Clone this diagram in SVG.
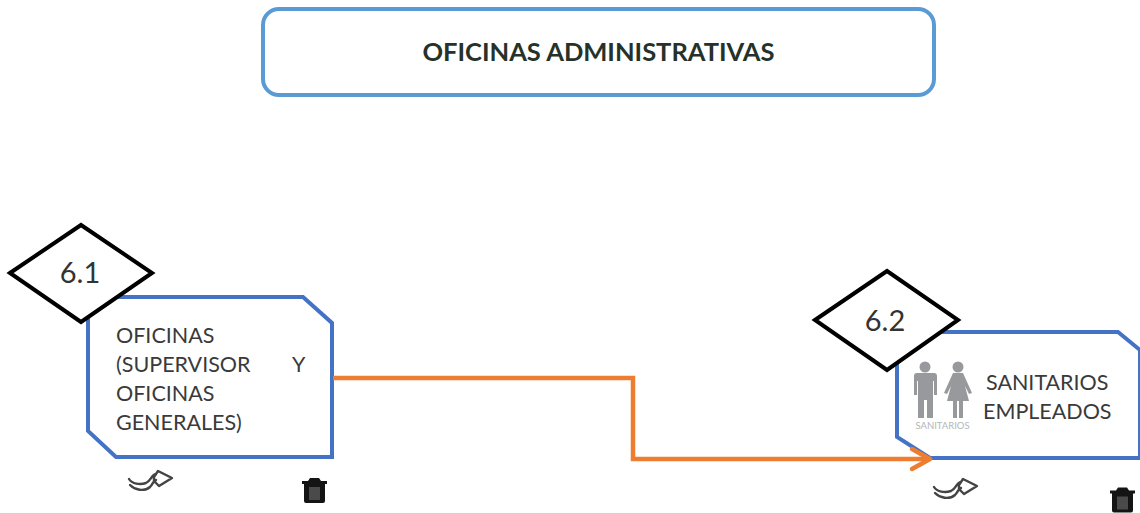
<svg xmlns="http://www.w3.org/2000/svg" width="1140" height="513" viewBox="0 0 1140 513">
<style>
.blue{fill:#fff;stroke:#4472c4;stroke-width:4}
.dia{fill:#fff;stroke:#000;stroke-width:4;stroke-linejoin:miter}
.t{font-family:"Lato","Liberation Sans",sans-serif;font-size:21.5px;fill:#3a3a3a}
.n{font-family:"Lato","Liberation Sans",sans-serif;font-size:29px;fill:#333;text-anchor:middle}
.ic{fill:#97999c}
.share{fill:none;stroke:#444;stroke-width:2.4;stroke-linejoin:round;stroke-linecap:round}
</style>
<defs>
<g id="share-icon">
<path class="share" d="M129 479c3 5 11 6 17 4c5-2 5-8 10-9M130 485c5 5 14 7 20 2c3-3 3-6 6-7M154 477l4-6 14 7-13 8-5-5z"/>
</g>
<g id="trash-icon">
<path d="M302 481h6l2-3h9l2 3h6v3h-2v17q0 2-2 2h-17q-2 0-2-2v-17h-2z" fill="#141414"/>
<rect x="309" y="487" width="11" height="13" fill="#4a4a4a"/>
</g>
</defs>
<rect width="1140" height="513" fill="#fff"/>
<g id="title">
<rect x="263" y="9" width="671" height="86" rx="16" fill="#fff" stroke="#5b9bd5" stroke-width="4"/>
<text x="598.500" y="61" text-anchor="middle" font-family="Lato,'Liberation Sans',sans-serif" font-size="25.500px" font-weight="700" fill="#263229">OFICINAS ADMINISTRATIVAS</text>
</g>
<g id="node-6-1">
<polygon class="blue" points="88,297 303,297 332,323 332,457 116,457 88,431"/>
<polygon class="dia" points="10,273 81,225 152,273 81,322"/>
<text class="n" x="80" y="283">6.1</text>
<text class="t" x="116" y="343">OFICINAS</text>
<text class="t" x="116" y="372">(SUPERVISOR</text>
<text class="t" x="292" y="372">Y</text>
<text class="t" x="116" y="401">OFICINAS</text>
<text class="t" x="116" y="430">GENERALES)</text>
<use href="#share-icon"/>
<use href="#trash-icon"/>
</g>
<g id="node-6-2">
<polygon class="blue" points="897,332 1118,332 1140,350 1140,458 930,458 897,437"/>
<polygon class="dia" points="815,320 887,271 958,320 887,370"/>
<text class="n" x="885" y="331">6.2</text>
<g id="icon-sanitarios">
<circle class="ic" cx="925" cy="367" r="5.500"/>
<path class="ic" d="M916 373h18q3 0 3 3v19h-3v-14h-1v37h-6v-18h-3v18h-6v-37h-1v14h-3v-19q0-3 3-3z"/>
<circle class="ic" cx="958" cy="367" r="5.500"/>
<path class="ic" d="M953 373h10l9 20-3 1-4-8 4 15h-6v17h-4v-17h-2v17h-4v-17h-6l4-15-4 8-3-1z"/>
<text x="942.500" y="429" text-anchor="middle" font-family="Lato,'Liberation Sans',sans-serif" font-size="9.500px" fill="#b4b5b7">SANITARIOS</text>
</g>
<text class="t" x="986" y="390">SANITARIOS</text>
<text class="t" x="983" y="419">EMPLEADOS</text>
<use href="#share-icon" x="805" y="8"/>
<use href="#trash-icon" x="808" y="9.500"/>
</g>
<g id="connectors" fill="none" stroke="#ed7d31" stroke-width="4.500">
<path d="M333 378H633V459H928"/>
<path d="M912 449L930 459L912 469" stroke-linecap="round" stroke-linejoin="round"/>
</g>
</svg>
